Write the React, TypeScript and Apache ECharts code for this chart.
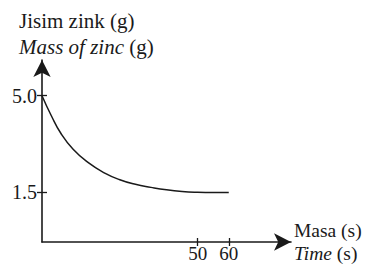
import React, { useEffect, useRef } from "react";
import * as echarts from "echarts";

const times = [0, 3, 6, 10, 15, 20, 25, 30, 35, 40, 45, 50, 55, 60];
const mass = [5.0, 4.27, 3.64, 3.05, 2.55, 2.19, 1.94, 1.77, 1.66, 1.57, 1.51, 1.48, 1.47, 1.47];
const xTicks = [50, 60];
const yTicks = [1.5, 5.0];
const yNameMalay = "Jisim zink (g)";
const yNameEnglish = "Mass of zinc";
const xNameMalay = "Masa (s)";
const xNameEnglish = "Time";

const INK = "#1a1a1a";
const FONT = "'Liberation Serif', 'DejaVu Serif', serif";

export default function App() {
  const ref = useRef<HTMLDivElement>(null);
  useEffect(() => {
    if (!ref.current) return;
    const chart = echarts.init(ref.current, undefined, { renderer: "svg" });
    const hiddenLine = { show: false, onZero: false };
    chart.setOption({
      animation: false,
      backgroundColor: "#ffffff",
      textStyle: { fontFamily: FONT, color: INK },
      grid: { left: 42, right: 77, top: 60, bottom: 23, containLabel: false, outerBoundsMode: "none" },
      xAxis: [
        {
          type: "value",
          min: 0,
          max: 80,
          position: "bottom",
          axisLine: {
            show: true,
            onZero: false,
            symbol: ["none", "arrow"],
            symbolSize: [13, 17],
            lineStyle: { color: INK, width: 1.6 },
          },
          axisTick: { show: true, customValues: xTicks, length: 4, lineStyle: { color: INK, width: 1.3 } },
          axisLabel: {
            show: true,
            customValues: xTicks,
            margin: 1,
            fontFamily: FONT,
            fontSize: 19,
            lineHeight: 21,
            color: INK,
            formatter: (v: number) => String(v),
          },
          splitLine: { show: false },
          name: `{n|${xNameMalay}}\n{i|${xNameEnglish}}{n| (s)}`,
          nameLocation: "end",
          nameGap: 3,
          nameTextStyle: {
            align: "left",
            verticalAlign: "middle",
            lineHeight: 23,
            rich: {
              n: { fontFamily: FONT, fontSize: 19.5, color: INK, lineHeight: 23 },
              i: { fontFamily: FONT, fontSize: 19.5, fontStyle: "italic", color: INK, lineHeight: 23 },
            },
          },
        },
        {
          type: "value",
          min: 0,
          max: 80,
          position: "bottom",
          axisLine: hiddenLine,
          splitLine: { show: false },
          axisTick: { show: true, inside: true, customValues: xTicks, length: 4, lineStyle: { color: INK, width: 1.3 } },
          axisLabel: { show: false },
        },
      ],
      yAxis: [
        {
          type: "value",
          min: -0.33,
          max: 6.3,
          position: "left",
          axisLine: {
            show: true,
            onZero: false,
            symbol: ["none", "arrow"],
            symbolSize: [13, 17],
            lineStyle: { color: INK, width: 1.6 },
          },
          axisTick: { show: true, customValues: yTicks, length: 5, lineStyle: { color: INK, width: 1.3 } },
          axisLabel: {
            show: true,
            customValues: yTicks,
            margin: 5,
            fontFamily: FONT,
            fontSize: 20,
            color: INK,
            formatter: (v: number) => v.toFixed(1),
          },
          splitLine: { show: false },
        },
        {
          type: "value",
          min: -0.33,
          max: 6.3,
          position: "left",
          axisLine: hiddenLine,
          splitLine: { show: false },
          axisTick: { show: true, inside: true, customValues: yTicks, length: 5, lineStyle: { color: INK, width: 1.3 } },
          axisLabel: { show: false },
        },
      ],
      graphic: [
        {
          type: "text",
          left: 19,
          top: 10,
          style: {
            text: `{n|${yNameMalay}}\n{i|${yNameEnglish}}{n| (g)}`,
            rich: {
              n: { fontFamily: FONT, fontSize: 21, fill: INK, lineHeight: 26 },
              i: { fontFamily: FONT, fontSize: 21, fontStyle: "italic", fill: INK, lineHeight: 26 },
            },
          },
        },
      ],
      series: [
        {
          type: "line",
          xAxisIndex: 0,
          yAxisIndex: 0,
          data: times.map((t, i) => [t, mass[i]]),
          smooth: true,
          showSymbol: false,
          symbol: "none",
          lineStyle: { color: INK, width: 1.5 },
        },
      ],
    });
    return () => chart.dispose();
  }, []);
  return (
    <div
      ref={ref}
      style={{ position: "fixed", left: 0, top: 0, width: 368, height: 265, background: "#fff" }}
    />
  );
}
